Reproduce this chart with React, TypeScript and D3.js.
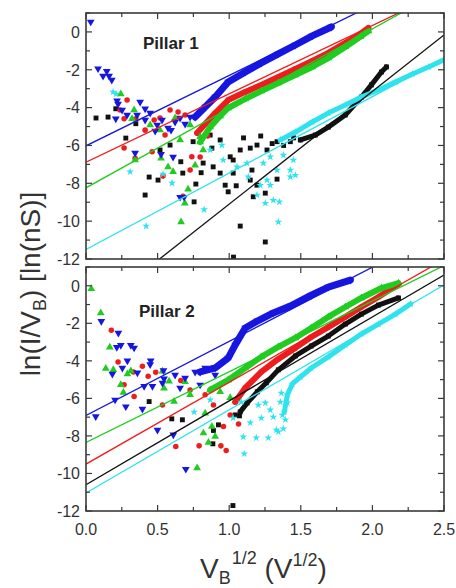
import React from 'react';
import * as d3 from 'd3';

const width = 456;
const height = 588;
const plotLeft = 86;
const plotRight = 444;
const font = "Arial, 'Liberation Sans', sans-serif";

const xDomain = [0, 2.5];
const yDomain = [-12, 1];
const xTickLabels = ['0.0', '0.5', '1.0', '1.5', '2.0', '2.5'];
const yTickLabels = ['0', '-2', '-4', '-6', '-8', '-10', '-12'];
const seriesNames = ['black', 'red', 'green', 'blue', 'cyan'];

// ---- Pillar 1: scattered points [V^1/2, ln(I/V)] and dense high-bias parts
const p1BlackPts = [[0.070,-4.55],[0.154,-4.50],[0.278,-5.61],[0.348,-4.85],[0.208,-4.06],[0.413,-8.62],[0.441,-7.67],[0.503,-7.83],[0.662,-6.86],[0.676,-7.46],[0.767,-8.04],[0.804,-7.44],[0.748,-5.80],[0.867,-5.45],[0.879,-6.14],[0.937,-5.71],[1.007,-6.60],[1.077,-6.24],[1.147,-6.14],[1.194,-5.98],[1.264,-6.24],[1.334,-5.80],[1.427,-5.80],[0.818,-6.93],[0.937,-7.46],[1.028,-6.77],[1.159,-7.30],[1.147,-7.83],[0.972,-8.10],[0.888,-7.13],[0.755,-8.98],[0.993,-8.45],[1.049,-8.13],[1.168,-8.71],[1.077,-10.26],[1.252,-11.10],[1.028,-7.46],[1.194,-8.10],[1.252,-8.52],[1.334,-7.78],[0.517,-6.24],[0.587,-5.98],[1.10,-5.6],[1.22,-5.5],[1.30,-5.9],[1.38,-6.0],[1.45,-5.6],[1.03,-11.9]];
const p1BlackBand = [[1.497,-5.71],[1.601,-5.45],[1.692,-5.03],[1.811,-4.39],[1.923,-3.44],[1.993,-2.80],[2.063,-2.12],[2.098,-1.85]];
const p1RedPts = [[0.266,-4.59],[0.287,-3.60],[0.348,-4.59],[0.476,-4.66],[0.266,-6.14],[0.343,-6.67],[0.462,-6.33],[0.538,-7.62],[0.678,-8.68],[0.727,-7.30],[0.797,-6.61],[0.739,-6.60],[0.587,-4.13],[0.517,-4.55],[0.643,-4.23],[0.692,-4.39],[0.238,-4.13],[0.413,-5.19],[0.552,-5.45],[0.85,-5.5]];
const p1RedBand = [[0.776,-5.34],[0.832,-4.87],[0.902,-4.29],[0.993,-3.60],[1.112,-3.17],[1.224,-2.80],[1.343,-2.38],[1.462,-1.96],[1.580,-1.53],[1.692,-1.11],[1.811,-0.58],[1.916,-0.11],[1.972,0.21]];
const p1GreenPts = [[0.243,-3.28],[0.336,-4.13],[0.322,-4.59],[0.524,-6.67],[0.608,-7.39],[0.713,-8.31],[0.690,-9.05],[0.664,-10.04],[0.343,-6.77],[0.573,-7.14],[0.797,-5.54],[0.818,-6.24],[0.448,-4.92],[0.517,-5.19],[0.622,-4.55],[0.727,-4.92],[0.762,-7.04],[0.657,-5.71]];
const p1GreenBand = [[0.797,-5.82],[0.867,-5.03],[0.937,-4.44],[0.993,-4.02],[1.112,-3.54],[1.224,-3.12],[1.343,-2.70],[1.462,-2.28],[1.580,-1.85],[1.692,-1.38],[1.811,-0.79],[1.916,-0.26],[1.972,0.05]];
const p1BluePts = [[0.033,0.53],[0.084,-1.94],[0.119,-2.33],[0.145,-2.08],[0.161,-2.33],[0.180,-2.54],[0.217,-3.63],[0.224,-3.81],[0.378,-3.70],[0.413,-4.06],[0.208,-4.59],[0.287,-4.39],[0.357,-4.39],[0.252,-4.13],[0.448,-4.29],[0.497,-4.92],[0.531,-4.66],[0.573,-5.08],[0.622,-4.76],[0.657,-4.55],[0.692,-4.87],[0.727,-4.50],[0.343,-6.40],[0.524,-6.46],[0.608,-6.61],[0.657,-8.73],[0.685,-8.73],[0.483,-5.24],[0.594,-5.19],[0.413,-4.66]];
const p1BlueBand = [[0.762,-4.50],[0.832,-3.97],[0.902,-3.44],[0.993,-2.65],[1.112,-2.12],[1.224,-1.64],[1.343,-1.16],[1.462,-0.69],[1.580,-0.21],[1.713,0.26]];
const p1CyanPts = [[0.189,-3.17],[0.210,-3.28],[0.308,-7.39],[0.420,-10.26],[0.601,-7.99],[0.538,-7.51],[0.825,-9.39],[0.949,-5.98],[0.958,-6.77],[1.054,-7.13],[1.124,-6.93],[1.133,-7.66],[1.238,-6.93],[1.287,-6.60],[1.378,-6.51],[1.448,-6.77],[1.334,-7.30],[1.427,-7.30],[1.264,-7.83],[1.194,-8.62],[1.252,-9.05],[1.308,-8.89],[1.350,-8.98],[1.343,-10.04],[1.217,-8.10],[1.287,-8.10],[1.427,-7.66],[1.462,-7.57],[0.867,-6.24]];
const p1CyanBand = [[1.357,-5.71],[1.462,-5.29],[1.580,-4.76],[1.692,-4.29],[1.811,-3.86],[1.923,-3.44],[2.042,-3.07],[2.161,-2.65],[2.280,-2.22],[2.392,-1.85],[2.497,-1.48]];
// linear fits, order: black, red, green, blue, cyan
const p1FitIntercepts = [-15.06, -6.88, -8.24, -6.02, -11.5];
const p1FitSlopes = [5.96, 3.61, 4.2, 3.72, 4.04];

// ---- Pillar 2
const p2BlackPts = [[0.441,-6.17],[0.673,-7.14],[0.886,-8.42],[0.925,-7.41],[0.890,-7.71],[1.042,-6.88],[1.072,-6.93],[1.026,-11.71],[0.599,-7.09]];
const p2BlackBand = [[1.077,-6.72],[1.126,-6.24],[1.196,-5.65],[1.259,-5.17],[1.343,-4.48],[1.462,-3.74],[1.573,-3.21],[1.692,-2.68],[1.811,-2.04],[1.923,-1.51],[2.042,-1.03],[2.182,-0.65]];
const p2RedPts = [[0.177,-2.37],[0.394,-4.29],[0.331,-4.59],[0.434,-4.82],[0.487,-4.61],[0.266,-5.27],[0.662,-5.05],[0.336,-5.90],[0.627,-8.56],[0.790,-8.53],[0.534,-6.35],[0.942,-8.53],[0.979,-8.78],[0.960,-7.50],[1.065,-7.36],[1.007,-6.88],[0.890,-6.35],[0.224,-4.06],[0.727,-5.55],[0.832,-5.81]];
const p2RedBand = [[1.042,-6.19],[1.112,-5.44],[1.224,-4.59],[1.343,-3.90],[1.462,-3.31],[1.573,-2.73],[1.692,-2.20],[1.811,-1.66],[1.923,-1.13],[2.042,-0.60],[2.182,0.09]];
const p2GreenPts = [[0.037,-0.16],[0.103,-1.45],[0.166,-3.28],[0.138,-4.41],[0.191,-4.47],[0.289,-4.70],[0.313,-4.54],[0.243,-5.27],[0.534,-4.55],[0.580,-5.09],[0.261,-5.69],[0.545,-5.46],[0.615,-6.17],[0.776,-9.71],[0.820,-7.85],[0.855,-8.35],[0.902,-8.03],[0.832,-6.79],[0.879,-7.50],[0.727,-5.81],[0.937,-5.65],[1.007,-5.97],[0.692,-5.12]];
const p2GreenBand = [[0.867,-5.55],[0.993,-5.02],[1.112,-4.38],[1.224,-3.79],[1.343,-3.26],[1.462,-2.78],[1.573,-2.25],[1.692,-1.66],[1.811,-1.13],[1.923,-0.65],[2.063,-0.12],[2.182,0.14]];
const p2BluePts = [[0.107,-1.89],[0.226,-2.52],[0.215,-3.28],[0.243,-3.17],[0.313,-3.17],[0.336,-3.31],[0.289,-3.99],[0.452,-3.99],[0.448,-4.20],[0.254,-4.38],[0.184,-4.70],[0.359,-4.64],[0.541,-4.52],[0.545,-4.95],[0.406,-5.35],[0.464,-5.35],[0.534,-5.18],[0.068,-6.97],[0.278,-6.44],[0.203,-6.08],[0.394,-6.57],[0.499,-7.68],[0.610,-7.94],[0.697,-9.77],[0.622,-4.75],[0.692,-4.91],[0.762,-4.59],[0.832,-4.38],[0.902,-4.75],[0.657,-5.44],[0.797,-5.28]];
const p2BlueBand = [[0.797,-4.59],[0.902,-4.38],[0.993,-3.85],[1.042,-3.15],[1.112,-2.25],[1.196,-1.88],[1.308,-1.45],[1.427,-1.08],[1.573,-0.50],[1.692,-0.07],[1.846,0.30]];
const p2CyanPts = [[1.084,-6.19],[1.098,-8.05],[1.105,-8.95],[1.189,-8.10],[1.224,-7.04],[1.273,-8.10],[1.329,-7.68],[1.364,-5.71],[1.357,-6.19],[1.392,-7.14],[1.287,-6.61],[1.252,-6.24],[1.308,-6.99],[1.343,-7.78],[1.378,-7.62],[1.203,-6.35],[1.371,-6.88],[1.406,-6.24],[1.147,-7.30],[1.028,-7.04],[0.755,-6.72],[0.867,-6.08]];
const p2CyanBand = [[1.385,-6.72],[1.406,-5.81],[1.441,-5.23],[1.497,-4.86],[1.573,-4.38],[1.692,-3.79],[1.811,-3.15],[1.923,-2.57],[2.042,-2.04],[2.161,-1.51],[2.266,-0.97]];
const p2FitIntercepts = [-10.6, -9.5, -8.35, -6.91, -11.04];
const p2FitSlopes = [4.47, 4.36, 3.77, 3.95, 4.43];

const colors = { black: '#111111', red: '#ee1d1d', green: '#20cc20', blue: '#1616e0', cyan: '#2ee3ee' };
const bandWidths = { black: 5, red: 6, green: 6, blue: 7, cyan: 5 };

const symbolPath = name => {
  if (name === 'black') return d3.symbol().type(d3.symbolSquare).size(24)();
  if (name === 'red') return d3.symbol().type(d3.symbolCircle).size(24)();
  if (name === 'cyan') return d3.symbol().type(d3.symbolStar).size(19)();
  return d3.symbol().type(d3.symbolTriangle).size(26)();
};

const Panel = ({ id, top, bottom, label, pts, bands, intercepts, slopes, showX }) => {
  const x = d3.scaleLinear().domain(xDomain).range([plotLeft, plotRight]);
  const y = d3.scaleLinear().domain(yDomain).range([bottom, top]);
  const line = d3.line().x(d => x(d[0])).y(d => y(d[1]));
  const xMinor = d3.range(0, 2.5001, 0.25);
  const yMinor = d3.range(-12, 1.001, 1);
  const axisColor = '#3a3a3a';

  return (
    <g>
      <defs>
        <clipPath id={id}>
          <rect x={plotLeft} y={top} width={plotRight - plotLeft} height={bottom - top} />
        </clipPath>
      </defs>
      <g clipPath={`url(#${id})`}>
        {seriesNames.map((s, i) => (
          <g key={s}>
            <path d={line(bands[i])} fill="none" stroke={colors[s]} strokeWidth={bandWidths[s]}
              strokeLinejoin="round" strokeLinecap="round" />
            {pts[i].concat(bands[i]).map((d, j) => (
              <path key={j} d={symbolPath(s)} fill={colors[s]}
                transform={`translate(${x(d[0])},${y(d[1])})${s === 'blue' ? ' rotate(180)' : ''}`} />
            ))}
          </g>
        ))}
        {seriesNames.map((s, i) => (
          <path key={s} d={line([[xDomain[0], intercepts[i] + slopes[i] * xDomain[0]], [xDomain[1], intercepts[i] + slopes[i] * xDomain[1]]])}
            fill="none" stroke={colors[s]} strokeWidth={1.3} />
        ))}
      </g>
      {xMinor.map(t => {
        const len = Math.abs(t * 2 - Math.round(t * 2)) < 1e-6 ? 6 : 4;
        return (
          <g key={t} stroke={axisColor} strokeWidth={1.2}>
            <line x1={x(t)} x2={x(t)} y1={bottom} y2={bottom - len} />
            <line x1={x(t)} x2={x(t)} y1={top} y2={top + len} />
          </g>
        );
      })}
      {yMinor.map(t => {
        const len = t % 2 === 0 ? 6 : 4;
        return (
          <g key={t} stroke={axisColor} strokeWidth={1.2}>
            <line x1={plotLeft} x2={plotLeft + len} y1={y(t)} y2={y(t)} />
            <line x1={plotRight} x2={plotRight - len} y1={y(t)} y2={y(t)} />
          </g>
        );
      })}
      <rect x={plotLeft} y={top} width={plotRight - plotLeft} height={bottom - top}
        fill="none" stroke={axisColor} strokeWidth={1.6} />
      {yTickLabels.map(t => (
        <text key={t} x={plotLeft - 6} y={y(+t)} dy="0.36em" textAnchor="end"
          fontFamily={font} fontSize={16} fill="#333">{t}</text>
      ))}
      {showX && xTickLabels.map(t => (
        <text key={t} x={x(+t)} y={bottom + 24} textAnchor="middle"
          fontFamily={font} fontSize={16} fill="#333">{t}</text>
      ))}
      <text x={label.x} y={label.y} fontFamily={font} fontWeight="bold" fontSize={17} fill="#222">{label.text}</text>
    </g>
  );
};

export default function App() {
  return (
    <svg width={width} height={height} style={{ position: 'absolute', left: 0, top: 0, background: '#fff' }}>
      <rect width={width} height={height} fill="#fff" />
      <Panel id="clip1" top={13} bottom={259}
        label={{ text: 'Pillar 1', x: 143, y: 49 }}
        pts={[p1BlackPts, p1RedPts, p1GreenPts, p1BluePts, p1CyanPts]}
        bands={[p1BlackBand, p1RedBand, p1GreenBand, p1BlueBand, p1CyanBand]}
        intercepts={p1FitIntercepts} slopes={p1FitSlopes} showX={false} />
      <Panel id="clip2" top={267} bottom={511}
        label={{ text: 'Pillar 2', x: 139, y: 317 }}
        pts={[p2BlackPts, p2RedPts, p2GreenPts, p2BluePts, p2CyanPts]}
        bands={[p2BlackBand, p2RedBand, p2GreenBand, p2BlueBand, p2CyanBand]}
        intercepts={p2FitIntercepts} slopes={p2FitSlopes} showX={true} />
      <text transform="translate(40,284) rotate(-90)" textAnchor="middle" fontFamily={font} fontSize={28} fill="#333">
        ln(I/V<tspan fontSize={18} dy={6}>B</tspan><tspan dy={-6}>) [ln(nS)]</tspan>
      </text>
      <text x={200} y={578} fontFamily={font} fontSize={28} fill="#333">
        V<tspan fontSize={18} dy={6}>B</tspan><tspan fontSize={18} dx={1} dy={-20}>1/2</tspan><tspan dy={14}> (V</tspan><tspan fontSize={18} dy={-12}>1/2</tspan><tspan dy={12}>)</tspan>
      </text>
    </svg>
  );
}
